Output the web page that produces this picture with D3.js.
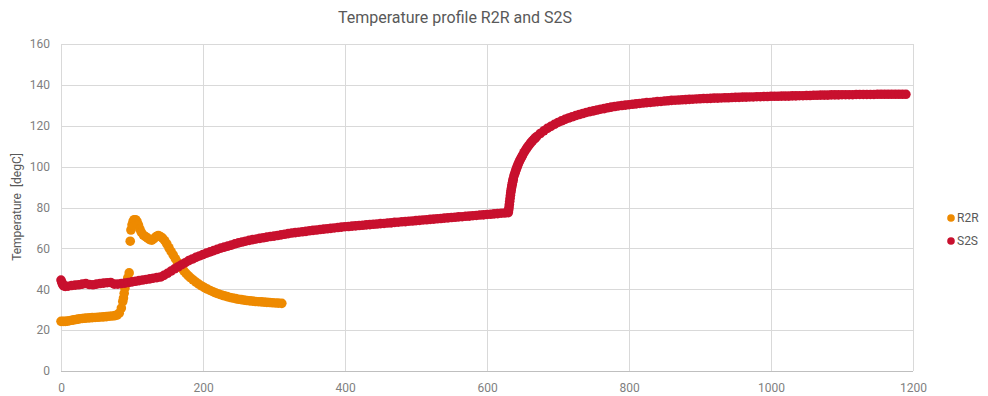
<!DOCTYPE html>
<meta charset="utf-8">
<style>
body { margin: 0; background: #fff; }
text { font-family: "Roboto", "Liberation Sans", sans-serif; }
.grid line { stroke: #d9d9d9; stroke-width: 1; }
.axis text { fill: #7f7f7f; font-size: 12px; }
</style>
<svg width="988" height="396"></svg>
<script src="https://d3js.org/d3.v7.min.js"></script>
<script>
// tick labels
var xTicks = [0, 200, 400, 600, 800, 1000, 1200];
var yTicks = [0, 20, 40, 60, 80, 100, 120, 140, 160];
var seriesNames = ["R2R", "S2S"];

// [time, temperature]
var r2r = [
  [0,24.3],[3,24.3],[6,24.3],[9,24.4],[12,24.6],[15,24.8],[18,25.0],[21,25.2],[24,25.4],[27,25.6],
  [30,25.7],[33,25.8],[36,25.9],[40,26.0],[44,26.1],[48,26.2],[52,26.3],[56,26.4],[60,26.5],[64,26.6],
  [68,26.8],[72,26.9],[76,27.1],[79,27.4],[82,28.3],[85,30.8],[87,34.0],[88,35.7],[89,38.0],[90,40.5],
  [92,43.0],[94,45.5],[96,48.0],[97.5,63.5],[98.5,69.0],[100,71.5],[101.5,73.2],[103,74.0],[105,74.0],[107,73.2],
  [109,71.5],[111,69.5],[113,68.0],[116,66.5],[119,65.8],[122,65.0],[125,64.3],[128,64.0],[131,64.8],[134,65.8],
  [137,66.3],[140,65.8],[143,65.0],[146,63.8],[149,62.2],[152,60.3],[155,58.5],[158,56.8],[161,55.0],[164,53.3],
  [167,51.7],[170,50.3],[173,49.0],[176,47.8],[179,46.7],[182,45.7],[186,44.6],[190,43.5],[194,42.5],[198,41.6],
  [202,40.8],[206,40.1],[210,39.4],[214,38.8],[218,38.2],[222,37.7],[226,37.2],[230,36.8],[234,36.4],[238,36.0],
  [242,35.7],[246,35.4],[250,35.1],[254,34.9],[258,34.7],[262,34.5],[266,34.3],[270,34.2],[274,34.0],[278,33.9],
  [282,33.8],[286,33.7],[290,33.6],[294,33.5],[298,33.4],[302,33.3],[306,33.2],[311,33.1]
];

var s2s = [
  [0,44.5],[1,43.5],[2,42.6],[3,42.0],[4,41.6],[6,41.4],[10,41.5],[15,41.8],[20,42.0],[25,42.2],
  [30,42.5],[35,42.8],[40,42.3],[45,42.2],[50,42.5],[55,42.8],[60,43.0],[65,43.2],[70,43.3],[75,42.5],
  [80,42.5],[85,42.8],[90,43.0],[95,43.3],[100,43.6],[105,43.9],[110,44.2],[115,44.5],[120,44.8],[125,45.1],
  [130,45.4],[135,45.7],[140,46.0],[145,46.8],[150,47.8],[155,48.9],[160,50.0],[165,51.0],[170,52.0],[175,53.0],
  [180,54.0],[185,54.8],[190,55.6],[195,56.3],[200,57.0],[205,57.7],[210,58.3],[215,58.9],[220,59.5],[225,60.1],
  [230,60.6],[235,61.1],[240,61.6],[245,62.2],[250,62.7],[255,63.1],[260,63.5],[265,63.9],[270,64.3],[275,64.6],
  [280,64.9],[285,65.2],[290,65.5],[295,65.8],[300,66.0],[305,66.3],[310,66.6],[315,66.9],[320,67.2],[325,67.5],
  [330,67.7],[335,67.9],[340,68.1],[345,68.3],[350,68.6],[355,68.8],[360,69.0],[365,69.2],[370,69.4],[375,69.6],
  [380,69.8],[385,70.0],[390,70.2],[395,70.4],[400,70.6],[405,70.7],[410,70.9],[415,71.0],[420,71.2],[425,71.3],
  [430,71.5],[435,71.6],[440,71.8],[445,71.9],[450,72.1],[455,72.2],[460,72.4],[465,72.5],[470,72.7],[475,72.8],
  [480,73.0],[485,73.1],[490,73.3],[495,73.4],[500,73.6],[505,73.7],[510,73.9],[515,74.0],[520,74.2],[525,74.3],
  [530,74.5],[535,74.6],[540,74.8],[545,74.9],[550,75.1],[555,75.2],[560,75.4],[565,75.5],[570,75.7],[575,75.8],
  [580,76.0],[585,76.1],[590,76.3],[595,76.4],[600,76.6],[605,76.7],[610,76.9],[615,77.0],[620,77.2],[625,77.3],
  [630,77.5],[630.5,78.8],[631,80.0],[631.5,81.5],[632,83.0],[632.5,84.5],[633,86.0],[633.5,87.3],[634,88.5],[634.5,89.5],
  [635,90.5],[635.5,91.4],[636,92.3],[636.5,93.2],[637,94.0],[638,95.5],[639,96.5],[640,97.5],[641,98.5],[642,99.5],
  [643,100.4],[644,101.3],[645.5,102.4],[647,103.5],[648.5,104.5],[650,105.5],[652,106.8],[654,108.0],[656,109.0],[658,110.0],
  [660,110.9],[662,111.8],[664,112.6],[666,113.3],[668,114.0],[670,114.7],[675,116.2],
  [680,117.5],[685,118.7],[690,119.7],[695,120.7],[700,121.6],[705,122.4],[710,123.1],[715,123.8],[720,124.4],[725,125.0],
  [730,125.5],[735,126.0],[740,126.5],[745,126.9],[750,127.3],[755,127.7],[760,128.1],[765,128.4],[770,128.8],[775,129.1],
  [780,129.4],[785,129.7],[790,129.9],[795,130.1],[800,130.3],[805,130.5],[810,130.7],[815,130.9],[820,131.1],[825,131.3],
  [830,131.4],[835,131.6],[840,131.8],[845,131.9],[850,132.1],[855,132.2],[860,132.4],[865,132.5],[870,132.6],[875,132.7],
  [880,132.8],[885,132.9],[890,133.0],[895,133.1],[900,133.2],[905,133.3],[910,133.3],[915,133.4],[920,133.5],[925,133.5],
  [930,133.6],[935,133.7],[940,133.7],[945,133.8],[950,133.9],[955,133.9],[960,134.0],[965,134.0],[970,134.1],[975,134.1],
  [980,134.2],[985,134.2],[990,134.3],[995,134.3],[1000,134.4],[1005,134.4],[1010,134.4],[1015,134.5],[1020,134.5],[1025,134.5],
  [1030,134.6],[1035,134.6],[1040,134.7],[1045,134.7],[1050,134.8],[1055,134.8],[1060,134.9],[1065,134.9],[1070,135.0],[1075,135.0],
  [1080,135.0],[1085,135.1],[1090,135.1],[1095,135.1],[1100,135.2],[1105,135.2],[1110,135.2],[1115,135.2],[1120,135.3],[1125,135.3],
  [1130,135.3],[1135,135.3],[1140,135.3],[1145,135.3],[1150,135.4],[1155,135.4],[1160,135.4],[1165,135.4],[1170,135.4],[1175,135.4],
  [1180,135.4],[1185,135.4],[1190,135.4]
];

var colors = { R2R: "#ee8a00", S2S: "#c8102e" };

var svg = d3.select("svg");

var x = d3.scaleLinear().domain([0, 1200]).range([61, 913]);
var y = d3.scaleLinear().domain([0, 160]).range([371, 44]);

// gridlines
var grid = svg.append("g").attr("class", "grid");
grid.selectAll("line.h").data(yTicks).enter().append("line")
  .attr("x1", x(0)).attr("x2", x(1200))
  .attr("y1", function(d) { return Math.round(y(d)) + 0.5; })
  .attr("y2", function(d) { return Math.round(y(d)) + 0.5; });
grid.selectAll("line.v").data(xTicks).enter().append("line")
  .attr("y1", y(0)).attr("y2", y(160))
  .attr("x1", function(d) { return Math.round(x(d)) + 0.5; })
  .attr("x2", function(d) { return Math.round(x(d)) + 0.5; });

// axes (labels only, lines drawn by grid)
svg.append("g").attr("class", "axis")
  .attr("transform", "translate(0," + y(0) + ")")
  .call(d3.axisBottom(x).tickValues(xTicks).tickFormat(d3.format("d")).tickSize(0).tickPadding(12));
svg.append("g").attr("class", "axis")
  .attr("transform", "translate(" + x(0) + ",0)")
  .call(d3.axisLeft(y).tickValues(yTicks).tickSize(0).tickPadding(11));
svg.selectAll(".axis .domain").remove();
grid.append("line")
  .attr("x1", x(0)).attr("x2", x(1200)).attr("y1", y(0) + 0.5).attr("y2", y(0) + 0.5)
  .style("stroke", "#bfbfbf");

// series, S2S drawn last so it sits on top
function drawSeries(data, name) {
  svg.append("g").selectAll("circle").data(data).enter().append("circle")
    .attr("cx", function(d) { return x(d[0]); })
    .attr("cy", function(d) { return y(d[1]); })
    .attr("r", 4.8)
    .attr("fill", colors[name]);
}
drawSeries(r2r, "R2R");
drawSeries(s2s, "S2S");

// title
svg.append("text")
  .attr("x", 455).attr("y", 23)
  .attr("text-anchor", "middle")
  .style("font-size", "16px").style("fill", "#595959")
  .text("Temperature profile R2R and S2S");

// y label
svg.append("text")
  .attr("transform", "translate(21,207) rotate(-90)")
  .attr("text-anchor", "middle")
  .style("font-size", "12px").style("fill", "#595959")
  .style("white-space", "pre")
  .text("Temperature  [degC]");

// legend
var legend = svg.append("g").selectAll("g").data(seriesNames).enter().append("g")
  .attr("transform", function(d, i) { return "translate(951," + (218 + i * 23) + ")"; });
legend.append("circle").attr("r", 3.8).attr("fill", function(d) { return colors[d]; });
legend.append("text").attr("x", 6).attr("dy", "0.35em")
  .style("font-size", "12px").style("fill", "#595959")
  .text(function(d) { return d; });
</script>
